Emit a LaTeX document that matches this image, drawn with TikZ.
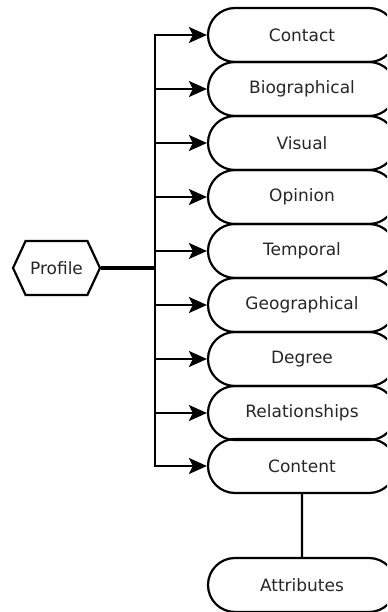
\documentclass[tikz,border=0pt]{standalone}
\usepackage{fontspec}
\setmainfont{DejaVu Sans}
\usepackage{tikz}
\usetikzlibrary{shapes.misc,shapes.symbols,arrows.meta}

\tikzset{
  pill/.style={rounded rectangle,draw,line width=1.1pt,minimum width=94pt,minimum height=27pt,inner sep=0pt,text=black!85},
  feed/.style={-{Stealth[length=9pt,width=8pt,inset=2pt]},line width=1.1pt}
}

\begin{document}
\begin{tikzpicture}[x=0.5pt,y=0.5pt,font=\fontsize{8.5}{10}\selectfont]
\useasboundingbox (0,0) rectangle (387,612);
\clip (0,0) rectangle (387,612);
\node (P) at (56.5,344) [signal,signal to=west and east,signal pointer angle=130,draw,line width=1.1pt,minimum width=43.5pt,minimum height=27pt,inner sep=0pt,text=black!85] {Profile};
\coordinate (bus) at (155,344);

\node (Con) at (302,577) [pill] {Contact};
\node (Bio) at (302,523) [pill] {Biographical};
\node (Vis) at (302,469) [pill] {Visual};
\node (Opi) at (302,415) [pill] {Opinion};
\node (Tem) at (302,361) [pill] {Temporal};
\node (Geo) at (302,307) [pill] {Geographical};
\node (Deg) at (302,253) [pill] {Degree};
\node (Rel) at (302,199) [pill] {Relationships};
\node (Cnt) at (302,146) [pill] {Content};
\node (Att) at (302,27) [pill] {Attributes};

\draw [line width=1.6pt] (P) -- (bus);
\draw [feed] (bus) |- (Con);
\draw [feed] (bus) |- (Bio);
\draw [feed] (bus) |- (Vis);
\draw [feed] (bus) |- (Opi);
\draw [feed] (bus) |- (Tem);
\draw [feed] (bus) |- (Geo);
\draw [feed] (bus) |- (Deg);
\draw [feed] (bus) |- (Rel);
\draw [feed] (bus) |- (Cnt);

\draw [line width=1.1pt] (Cnt) -- (Att);
\end{tikzpicture}
\end{document}
